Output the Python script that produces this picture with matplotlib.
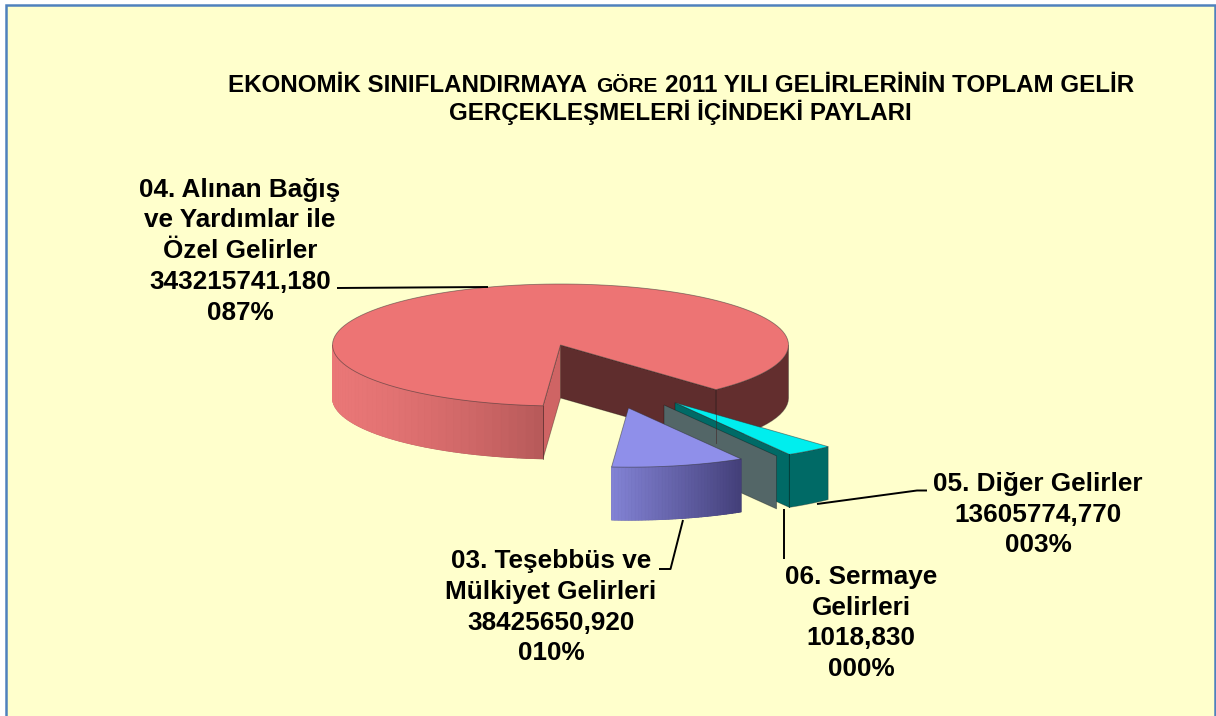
import numpy as np
import matplotlib
matplotlib.use('Agg')
import matplotlib.pyplot as plt
from matplotlib.collections import PolyCollection
from matplotlib.colors import to_rgb
from matplotlib.patches import Polygon, Rectangle

plt.rcParams['font.family'] = ['Liberation Sans', 'DejaVu Sans']

# Data, in chart order (counter clockwise from the first cut)
names = ['04. Alınan Bağış\nve Yardımlar ile\nÖzel Gelirler',
         '03. Teşebbüs ve\nMülkiyet Gelirleri',
         '06. Sermaye\nGelirleri',
         '05. Diğer Gelirler']
values = [343215741.18, 38425650.92, 1018.83, 13605774.77]

# Pie layout in pixels
W, H = 1216, 716
CX, CY, RX, RY = 560.5, 345, 228, 61
DEPTH = 53
START = -47
segments = 40
offsets = [(0, 0), (68, 63), (103.5, 60), (114.5, 57.7)]
scales = [1, 0.97, 0.97, 0.985]

fig = plt.figure(figsize=(W / 100, H / 100), dpi=100, facecolor='white')
ax = fig.add_axes([0, 0, 1, 1])
ax.set_xlim(0, W)
ax.set_ylim(H, 0)
ax.axis('off')

ax.add_patch(Rectangle((6, 5), W - 7, H, fc='#ffffcc', ec='#4f81bd', lw=1.8))


def point(i, theta, drop=0):
    t = np.radians(theta)
    x = CX + offsets[i][0] + RX * scales[i] * np.cos(t)
    y = CY + offsets[i][1] - RY * scales[i] * np.sin(t) + drop
    return np.array([x, y])


def apex(i, drop=0):
    return np.array([CX + offsets[i][0], CY + offsets[i][1] + drop])


def arc(i, a, b, n=segments):
    return [point(i, t) for t in np.linspace(a, b, n + 1)]


def rim(i, a, b, c1, c2, n=segments, power=1):
    # outer wall, split up so the shading can run along it
    ts = np.linspace(a, b, n + 1)
    outline = [point(i, t) for t in ts] + [point(i, t, DEPTH) for t in ts[::-1]]
    ax.add_patch(Polygon(outline, closed=True, fc=c2, ec='#30303066', lw=0.6))
    if c1 == c2:
        return
    polys = [[point(i, ts[k]), point(i, ts[k + 1]),
              point(i, ts[k + 1], DEPTH), point(i, ts[k], DEPTH)] for k in range(n)]
    c1, c2 = np.array(to_rgb(c1)), np.array(to_rgb(c2))
    cols = [c1 + (c2 - c1) * (k / max(n - 1, 1)) ** power for k in range(n)]
    ax.add_collection(PolyCollection(polys, facecolors=cols, edgecolors='face',
                                     linewidths=0.6))


def wall(i, theta, color):
    # cut face between the centre and the edge
    pts = [apex(i), point(i, theta), point(i, theta, DEPTH), apex(i, DEPTH)]
    ax.add_patch(Polygon(pts, closed=True, fc=color, ec='#00000055', lw=0.6))


def top(i, a, b, color):
    pts = [apex(i)] + arc(i, a, b, 120)
    ax.add_patch(Polygon(pts, closed=True, fc=color, ec='#30303088', lw=0.6))


shares = np.array(values) / sum(values)
sweep = shares * 360
edges = START + np.concatenate([[0], np.cumsum(sweep)])

# 04 - big slice
a, b = edges[0], edges[1]
wall(0, a, '#5f2d2d')
rim(0, a, 0, '#632e2e', '#632e2e', 15)
wall(0, b, '#cf6464')
rim(0, 180, b, '#ea7777', '#b85a5a', power=2.5)
top(0, a, b, '#ed7474')
ax.plot(*zip(point(0, a), point(0, a, DEPTH)), color='#40202088', lw=0.7)
ax.plot(*zip(point(0, b), point(0, b, DEPTH)), color='#40202088', lw=0.7)

# 05 - cyan
a, b = edges[3], edges[4]
wall(3, a, '#006a66')
rim(3, a, b, '#006a66', '#006a66', 6)
top(3, a, b, '#00eeee')
ax.plot(*zip(point(3, a), point(3, a, DEPTH)), color='#00403d', lw=0.7)

# 06 - almost no angle, only the cut face shows
wall(2, edges[2], '#536667')

# 03 - purple
a, b = edges[1], edges[2]
rim(1, a, b, '#8282d4', '#44407a')
top(1, a, b, '#8f8fea')

# Leader lines
leaders = [[(337, 288), (488, 287)],
           [(683, 520), (670.5, 569), (659, 569)],
           [(784, 509), (784, 559)],
           [(817, 504), (917, 490.5), (927, 490.5)]]
for line in leaders:
    ax.plot(*zip(*line), color='black', lw=1.4, solid_capstyle='butt')

# Slice labels, x centre and first baseline
label_pos = [(240, 196.7), (551, 568.3), (861, 584), (1038, 491)]
LINE = 30.7
for name, val, share, (x, y) in zip(names, values, shares, label_pos):
    val_text = f'{val:.3f}'.replace('.', ',')
    txt = name.split('\n') + [val_text, f'{round(share * 100):03d}%']
    for k, t in enumerate(txt):
        ax.text(x, y + k * LINE, t, ha='center', va='baseline', fontsize=18.8,
                fontweight='bold', color='black')

# Title, "GÖRE" is set smaller in the original
fig.canvas.draw()
rend = fig.canvas.get_renderer()
x = 228
for t, size, gap in [('EKONOMİK SINIFLANDIRMAYA', 17.35, 9),
                     ('GÖRE', 15, 8),
                     ('2011 YILI GELİRLERİNİN TOPLAM GELİR', 17.35, 0)]:
    tt = ax.text(x, 92, t, ha='left', va='baseline', fontsize=size, fontweight='bold')
    x += tt.get_window_extent(rend).width + gap
ax.text(680, 120, 'GERÇEKLEŞMELERİ İÇİNDEKİ PAYLARI', ha='center', va='baseline',
        fontsize=17.35, fontweight='bold')

fig.savefig('out.png', dpi=100, facecolor='white')
